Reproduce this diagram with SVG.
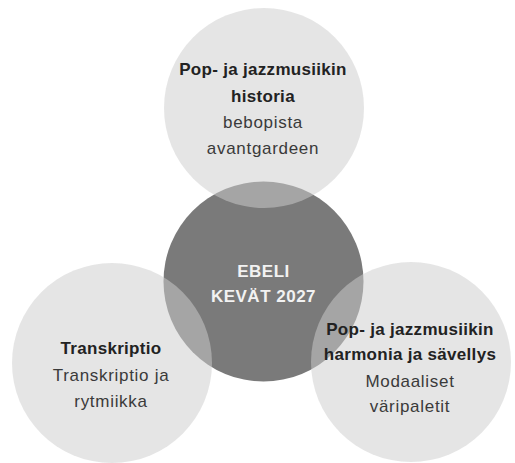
<svg xmlns="http://www.w3.org/2000/svg" width="515" height="463" viewBox="0 0 515 463">
  <style>
    .outer { fill: #cecece; fill-opacity: 0.52; }
    .core { fill: #7a7a7a; }
    text { font-family: "Liberation Sans", Arial, sans-serif; font-size: 17px; text-anchor: middle; }
    .b { font-weight: bold; fill: #222222; letter-spacing: 0.3px; }
    .r { fill: #3a3a3a; letter-spacing: 0.7px; }
    .c { font-weight: bold; fill: #f2f2f2; letter-spacing: 0.5px; }
  </style>
  <rect width="515" height="463" fill="#ffffff"/>
  <g id="connectors"></g>
  <g id="node-center">
    <circle class="core" cx="263.5" cy="281.5" r="100"/>
    <text class="c" x="263.5" y="277">EBELI</text>
    <text class="c" x="263.5" y="302">KEVÄT 2027</text>
  </g>
  <g id="node-historia">
    <circle class="outer" cx="264" cy="108" r="100"/>
    <text class="b" x="263" y="75">Pop- ja jazzmusiikin</text>
    <text class="b" x="263" y="102">historia</text>
    <text class="r" x="263" y="128">bebopista</text>
    <text class="r" x="263" y="154">avantgardeen</text>
  </g>
  <g id="node-transkriptio">
    <circle class="outer" cx="112" cy="363" r="100"/>
    <text class="b" x="111" y="354">Transkriptio</text>
    <text class="r" x="111" y="381">Transkriptio ja</text>
    <text class="r" x="111" y="407">rytmiikka</text>
  </g>
  <g id="node-harmonia">
    <circle class="outer" cx="411" cy="362" r="100"/>
    <text class="b" x="410" y="335">Pop- ja jazzmusiikin</text>
    <text class="b" x="410" y="360">harmonia ja sävellys</text>
    <text class="r" x="410" y="387">Modaaliset</text>
    <text class="r" x="410" y="412">väripaletit</text>
  </g>
</svg>
